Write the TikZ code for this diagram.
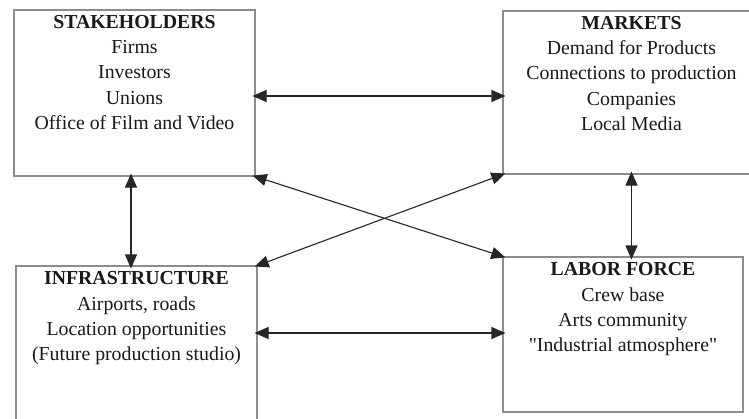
\documentclass[tikz,border=0pt]{standalone}
\usepackage{fontspec}
\setmainfont{Liberation Serif}[Ligatures=TeXOff]
\usetikzlibrary{arrows.meta,calc}
\begin{document}
\begin{tikzpicture}[x=1pt,y=-1pt,
  box/.style={draw=black!45, line width=1.1pt, inner sep=0pt, rectangle},
  txt/.style={anchor=north, align=center, inner sep=0pt, text=black!90,
    font=\fontsize{19.8pt}{25.3pt}\selectfont},
  link/.style={{Triangle[length=14pt,width=12pt]}-{Triangle[length=14pt,width=12pt]},
    line width=1.1pt, draw=black!85, shorten <=-3pt, shorten >=-3pt}]
\useasboundingbox (0,0) rectangle (749,418);
\clip (0,0) rectangle (749,418);
\fill[white] (0,0) rectangle (749,418);

\node[box, minimum width=241pt, minimum height=166pt] (S) at (134.5,93) {};
\node[box, minimum width=257pt, minimum height=163pt] (M) at (631.5,92.5) {};
\node[box, minimum width=241pt, minimum height=174pt] (I) at (136.5,353) {};
\node[box, minimum width=240pt, minimum height=155pt] (L) at (623,334.5) {};

\node[txt] (St) at ($(S.north)+(0,5.5)$) {\textbf{STAKEHOLDERS}\\Firms\\Investors\\Unions\\Office of Film and Video};
\node[txt] (Mt) at ($(M.north)+(0,5.5)$) {\textbf{MARKETS}\\Demand for Products\\Connections to production\\Companies\\Local Media};
\node[txt] (It) at ($(I.north)+(0,6)$) {\textbf{INFRASTRUCTURE}\\Airports, roads\\Location opportunities\\(Future production studio)};
\node[txt] (Lt) at ($(L.north)+(0,6)$) {\textbf{LABOR FORCE}\\Crew base\\Arts community\\"Industrial atmosphere"};

\coordinate (sE) at ($(S.east)+(0,3)$);
\coordinate (sS) at ($(S.south)+(-3.5,0)$);
\coordinate (lW) at ($(L.west)+(0,-1.5)$);

\draw[link] (sE) -- (sE -| M.west);
\draw[link] (S.south east) -- (L.north west);
\draw[link] (M.south west) -- (I.north east);
\draw[link] (sS) -- (sS |- I.north);
\draw[link] (M.south) -- (M.south |- L.north);
\draw[link] (lW -| I.east) -- (lW);
\end{tikzpicture}
\end{document}
